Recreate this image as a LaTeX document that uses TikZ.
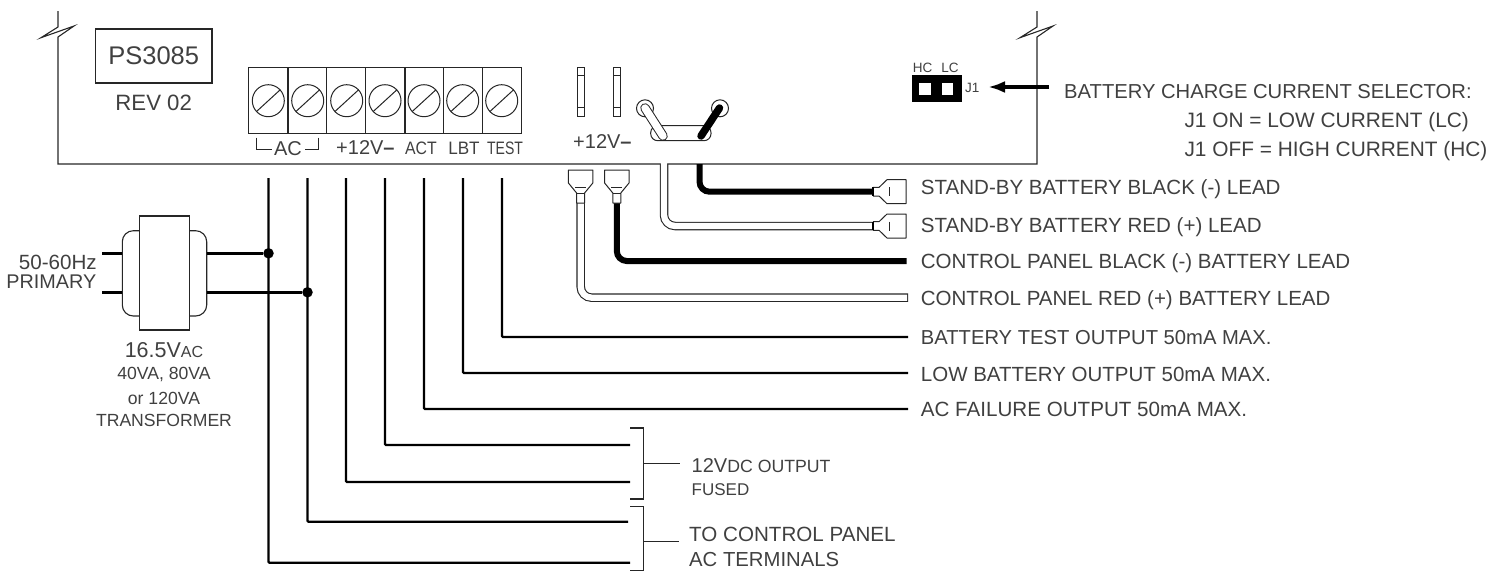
\documentclass[tikz,border=0pt]{standalone}
\usepackage{fontspec}
\setmainfont{Liberation Sans}
\usetikzlibrary{arrows.meta}
\definecolor{ink}{gray}{0.25}
\tikzset{
 x=1pt,y=-1pt,
 board/.style={draw=black!85,line width=1.1pt,line join=miter},
 thin box/.style={draw=black!85,line width=1.1pt},
 wire/.style={draw=black,line width=2.4pt,rounded corners=1pt},
 heavy/.style={draw=black,line width=6pt,rounded corners=10pt},
 lbl/.style={inner sep=0pt,text=ink,font=\fontsize{20.4}{22}\selectfont},
 llbl/.style={lbl,anchor=west,text height=14.6pt,text depth=0pt},
 fs/.style={font=\fontsize{#1}{22}\selectfont},
 small/.style={inner sep=0pt,text=ink,font=\fontsize{17.6}{20}\selectfont},
 tiny/.style={inner sep=0pt,text=ink,font=\fontsize{13.5}{15}\selectfont},
 dotn/.style={circle,fill=black,inner sep=0pt,minimum size=10.5pt},
 screw/.style={circle,draw=black!85,line width=1pt,inner sep=0pt,minimum size=32pt},
 lug/.style={draw=black!85,line width=1pt,fill=white,line join=round},
}
\newcommand{\sm}[1]{{\fontsize{16}{18}\selectfont #1}}
\newcommand{\smb}[1]{{\fontsize{17.7}{20}\selectfont #1}}
\begin{document}
\begin{tikzpicture}
\useasboundingbox (0,0) rectangle (1504,571);
% board outline
\draw[board] (58,11) -- (58,27) -- (41,37.7) -- (74,26) -- (58,37) -- (58,164) -- (1037,164) -- (1037,37) -- (1053,26) -- (1020,37.7) -- (1037,27) -- (1037,11);
% model
\node[draw=black!85,line width=1.1pt,minimum width=116.5pt,minimum height=54pt,inner sep=0pt,text=ink,font=\fontsize{25.5}{27}\selectfont] (model) at (153.7,56) {PS3085};
\node[inner sep=0pt,text=ink,font=\fontsize{22.2}{24}\selectfont] (rev) at (153.7,102.5) {REV 02};
% terminal block
\foreach \i/\a/\b in {1/248.3/288,2/288/326.7,3/326.7/365.7,4/365.7/405,5/405/443.7,6/443.7/482.7,7/482.7/521.3}{
  \draw[thin box] (\a,67.5) rectangle (\b,133.3);
}
\foreach \i/\cx in {1/268.3,2/307.7,3/346.7,4/385,5/424,6/462.7,7/501.7}{
  \node[screw] (s\i) at (\cx,100.7) {};
  \draw[black!85,line width=1pt] (\cx-12,100.7+11) -- (\cx+12,100.7-11);
}
% terminal labels
\draw[black!85,line width=1pt] (256.7,137.7) -- (256.7,149) -- (271.7,149);
\draw[black!85,line width=1pt] (318.3,137.7) -- (318.3,149) -- (305,149);
\node[lbl,font=\fontsize{20}{22}\selectfont] (acl) at (288,148.5) {AC};
\node[lbl,font=\fontsize{20}{22}\selectfont,anchor=west] (p12) at (336,148) {+12V\textbf{–}};
\node[lbl,font=\fontsize{18}{20}\selectfont,xscale=.88] (act) at (421,148) {ACT};
\node[lbl,font=\fontsize{18}{20}\selectfont,xscale=.95] (lbt) at (464,148) {LBT};
\node[lbl,font=\fontsize{18}{20}\selectfont,xscale=.78] (tst) at (505,148) {TEST};
% fuses
\foreach \n/\a in {f1/577.3,f2/613.3}{
  \draw[thin box] (\a,67.7) rectangle (\a+7.4,116.3);
  \draw[black!85,line width=1pt] (\a,75) -- (\a+7.4,75) (\a,107.3) -- (\a+7.4,107.3);
}
\node[lbl,font=\fontsize{20}{22}\selectfont,anchor=west] (p12b) at (573,142) {+12V\textbf{–}};
% battery posts
\draw[black!85,line width=1pt,rounded corners=7pt] (650.7,125.7) rectangle (711,140.7);
\node[circle,draw=black!85,line width=1pt,inner sep=0pt,minimum size=17pt,fill=white] (bp1) at (645,108.3) {};
\node[circle,draw=black!85,line width=1pt,inner sep=0pt,minimum size=17pt,fill=white] (bp2) at (720,108.3) {};
\draw[line width=9.5pt,line cap=round,black!85] (645,108) -- (663,136);
\draw[line width=7.5pt,line cap=round,white] (645,108) -- (663,136);
\draw[line width=7.5pt,line cap=round,black] (719.5,108) -- (701,136);
% white wire stand-by red
\draw[line width=8.5pt,black!85,rounded corners=11pt] (664,164) -- (664,226) -- (873,226);
\draw[line width=6.3pt,white,rounded corners=11pt] (664,163) -- (664,226) -- (873,226);
% black wire stand-by black
\draw[heavy] (699.5,164) -- (699.5,191.7) -- (873,191.7);
% right spade lugs
\foreach \n/\y in {r1/191.7,r2/226}{
  \draw[lug] (873,\y-4.3) -- (879,\y-4.3) -- (887,\y-12) -- (906,\y-12) -- (906,\y+12) -- (887,\y+12) -- (879,\y+4.3) -- (873,\y+4.3);
  \draw[black!85,line width=1pt] (889,\y-4.5) -- (889,\y+4.5);
  \draw[black,line width=1.2pt] (873,\y-4.3) -- (873,\y+4.3);
}
% control panel wires
\draw[line width=8.5pt,black!85,rounded corners=11pt] (580.7,203) -- (580.7,297.7) -- (908,297.7);
\draw[line width=6.3pt,white,rounded corners=11pt] (580.7,202) -- (580.7,297.7) -- (907,297.7);
\draw[heavy] (616.8,203) -- (616.8,261) -- (906.7,261);
% bottom lugs
\foreach \n/\x in {l1/580.6,l2/616.8}{
  \draw[lug] (\x-12.2,170) -- (\x+12.2,170) -- (\x+12.2,183) -- (\x+4,193) -- (\x+4,203) -- (\x-4,203) -- (\x-4,193) -- (\x-12.2,183) -- cycle;
  \draw[black!85,line width=1pt] (\x-5.5,187.3) -- (\x+5.5,187.3);
  \draw[black!85,line width=1pt] (\x-4,193) -- (\x+4,193);
}
% transformer
\draw[thin box,rounded corners=11pt] (139.3,230.7) -- (122.3,230.7) -- (122.3,316) -- (139.3,316);
\draw[thin box,rounded corners=11pt] (189.3,230.7) -- (206.7,230.7) -- (206.7,316) -- (189.3,316);
\draw[thin box] (139.3,216) rectangle (189.3,330);
\coordinate (pa) at (102,253.3);
\coordinate (pb) at (102,292.3);
\draw[wire,rounded corners=0pt] (pa) -- (122.3,253.3);
\draw[wire,rounded corners=0pt] (pb) -- (122.3,292.3);
% output wires
\coordinate (w1e) at (630,562.7);
\coordinate (w2e) at (628,521.7);
\coordinate (w3e) at (630,482);
\coordinate (w4e) at (630,445);
\coordinate (w5e) at (908,409);
\coordinate (w6e) at (908,373);
\coordinate (w7e) at (908,337);
\draw[wire] (268.5,178) -- (268.5,562.7) -- (w1e);
\draw[wire] (307.5,178) -- (307.5,521.7) -- (w2e);
\draw[wire] (346,178) -- (346,482) -- (w3e);
\draw[wire] (385,178) -- (385,445) -- (w4e);
\draw[wire] (424,178) -- (424,409) -- (w5e);
\draw[wire] (463,178) -- (463,373) -- (w6e);
\draw[wire] (502,178) -- (502,337) -- (w7e);
\node[dotn] (d1) at (268.5,253.3) {};
\node[dotn] (d2) at (307.5,292.3) {};
\draw[wire,rounded corners=0pt] (206.7,253.3) -- (d1);
\draw[wire,rounded corners=0pt] (206.7,292.3) -- (d2);
% transformer labels
\node[lbl,anchor=east,fs=20.6] (hz) at (97,262) {50-60Hz};
\node[lbl,anchor=east,fs=19.8] (pri) at (96.5,282) {PRIMARY};
\node[lbl,font=\fontsize{21.5}{23}\selectfont] (v) at (164,350) {16.5V\sm{AC}};
\node[small] (va) at (164,374) {40VA, 80VA};
\node[small] (or) at (164,398) {or 120VA};
\node[small] (tr) at (164,420) {TRANSFORMER};
% brackets
\draw[black!85,line width=1.1pt] (630,428) -- (643.3,428) -- (643.3,499) -- (630,499) (643.3,463.3) -- (680,463.3);
\draw[black!85,line width=1.1pt] (630,506.7) -- (643.3,506.7) -- (643.3,570.4) -- (630,570.4) (643.3,541.7) -- (679,541.7);
\node[llbl,fs=20] (dc) at (691.5,465) {12V\smb{DC OUTPUT}};
\node[llbl,fs=17,text height=12.2pt] (fu) at (691.5,489) {FUSED};
\node[llbl,fs=20.6] (tc) at (689,534) {TO CONTROL PANEL};
\node[llbl,fs=20.3] (act2) at (689,559) {AC TERMINALS};
% right labels
\node[llbl,fs=20.55] (t1) at (920.7,187.5) {STAND-BY BATTERY BLACK (-) LEAD};
\node[llbl,fs=20.55] (t2) at (920.7,225) {STAND-BY BATTERY RED (+) LEAD};
\node[llbl,fs=20.55] (t3) at (920.7,261.5) {CONTROL PANEL BLACK (-) BATTERY LEAD};
\node[llbl,fs=20.5] (t4) at (920.7,297.7) {CONTROL PANEL RED (+) BATTERY LEAD};
\node[llbl,fs=20.2] (t5) at (920.7,337.5) {BATTERY TEST OUTPUT 50mA MAX.};
\node[llbl,fs=20.5] (t6) at (920.7,374) {LOW BATTERY OUTPUT 50mA MAX.};
\node[llbl,fs=20.6] (t7) at (920.7,409.3) {AC FAILURE OUTPUT 50mA MAX.};
% jumper
\fill[black] (911.7,75) rectangle (961.7,101.7);
\fill[white] (919.3,83.3) rectangle (930.7,95);
\fill[white] (941.7,83.3) rectangle (952.7,95);
\node[tiny] (hc) at (922.7,68) {HC};
\node[tiny] (lc) at (950,68) {LC};
\node[tiny,anchor=west] (j1) at (965,88) {J1};
\node[llbl,fs=20.2] (b0) at (1064,90.7) {BATTERY CHARGE CURRENT SELECTOR:};
\node[llbl,fs=20.85] (b1) at (1184.3,120) {J1 ON = LOW CURRENT (LC)};
\node[llbl,fs=20.85] (b2) at (1184.3,149) {J1 OFF = HIGH CURRENT (HC)};
\coordinate (arrs) at (1049,87);
\coordinate (arre) at (988,87);
\draw[line width=3.6pt,-{Latex[length=17pt,width=12pt]}] (arrs) -- (arre);
\end{tikzpicture}
\end{document}
